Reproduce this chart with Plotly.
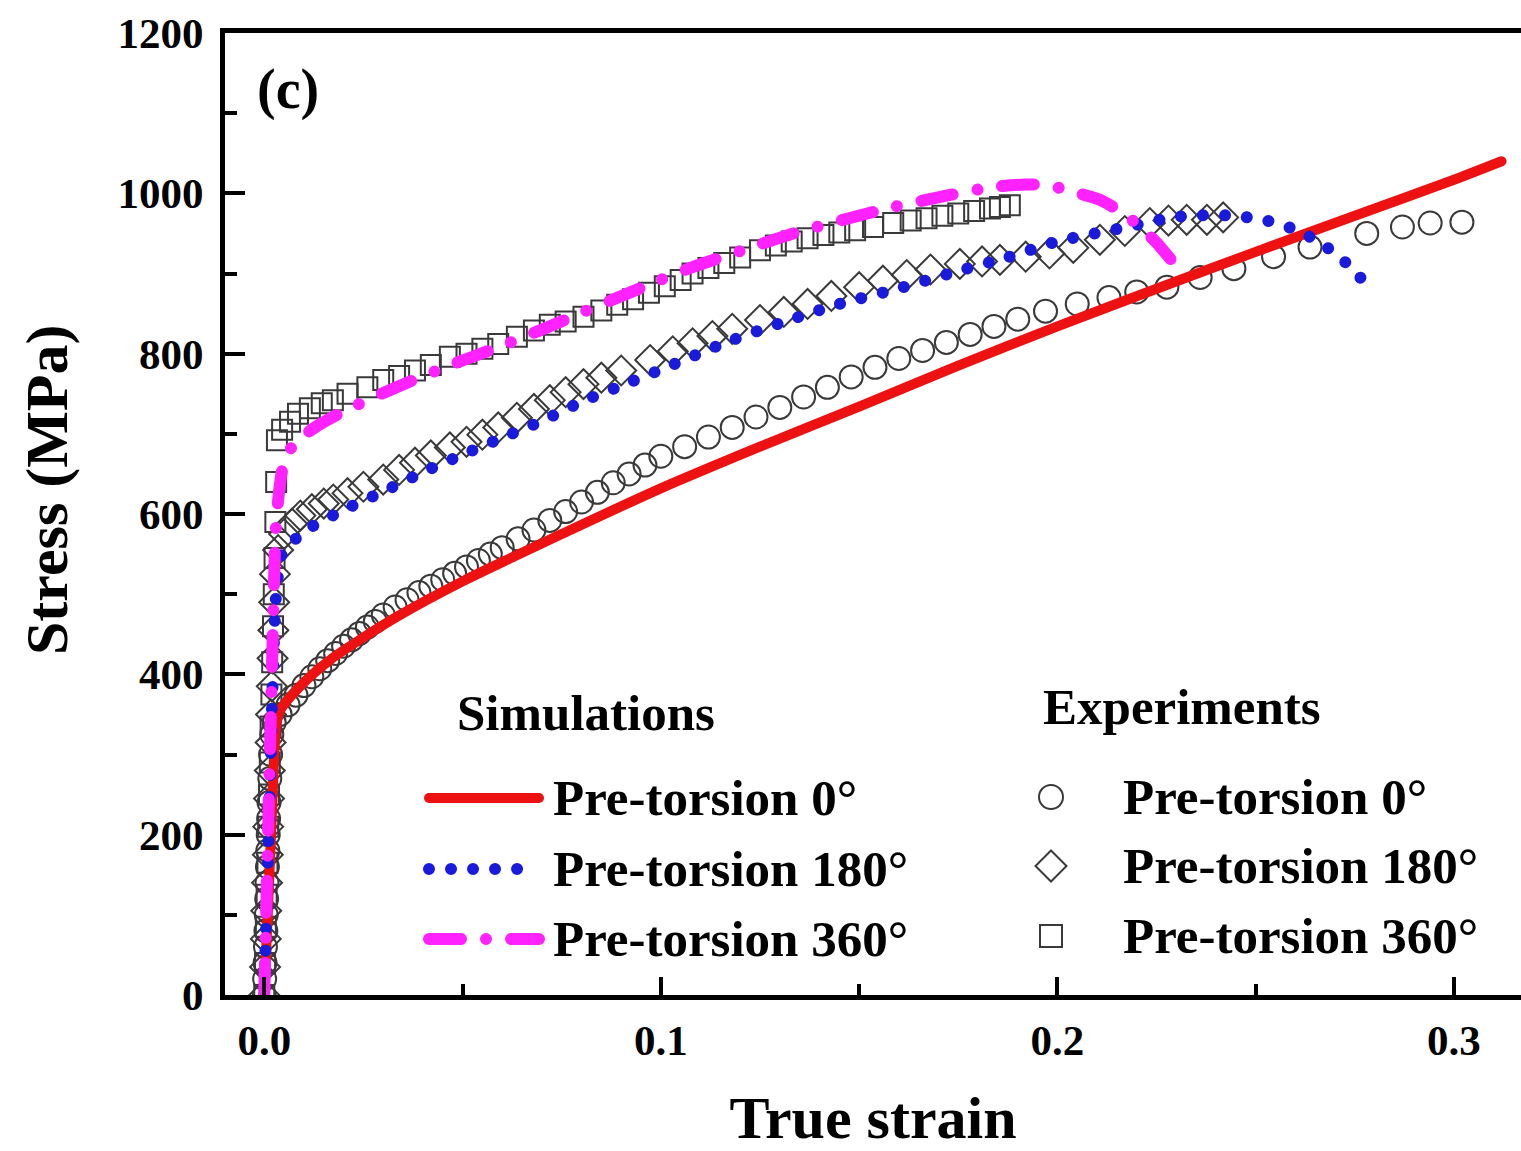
import plotly.graph_objects as go

# ---------------- data ----------------
# Simulations
sim0_strain = [0, 0.001, 0.002, 0.003, 0.004, 0.01, 0.0166, 0.025, 0.0335, 0.05, 0.063, 0.075,
               0.1, 0.125, 0.15, 0.175, 0.2, 0.225, 0.25, 0.275, 0.3, 0.312]
sim0_stress = [0, 115, 235, 335, 355, 390, 418, 446, 472, 516, 547, 575,
               632, 684, 734, 785, 834, 881, 927, 972, 1017, 1040]

sim180_strain = [0, 0.001, 0.002, 0.003, 0.0045, 0.01, 0.02, 0.03, 0.04, 0.05, 0.06, 0.07, 0.08,
                 0.09, 0.1, 0.117, 0.13, 0.145, 0.159, 0.175, 0.1873, 0.2, 0.2175, 0.229, 0.2385,
                 0.2444, 0.252, 0.2604, 0.267, 0.2733, 0.2793]
sim180_stress = [0, 180, 370, 500, 550, 578, 605, 628, 652, 674, 695, 716, 740,
                 760, 780, 815, 838, 862, 880, 903, 920, 940, 958, 970, 973,
                 972, 967, 954, 936, 911, 879]

sim360_strain = [0, 0.001, 0.002, 0.003, 0.0047, 0.0075, 0.0131, 0.02, 0.03, 0.045, 0.06, 0.07,
                 0.0805, 0.095, 0.108, 0.12, 0.1334, 0.146, 0.1586, 0.172, 0.1838, 0.192, 0.198,
                 0.2023, 0.2107, 0.2166, 0.2209, 0.2251, 0.2285]
sim360_stress = [0, 210, 420, 590, 659, 688, 709, 728, 751, 782, 810, 830,
                 852, 882, 908, 928, 950, 967, 983, 997, 1008, 1011, 1010,
                 1004, 992, 975, 958, 938, 918]

# Experiments
exp0_strain = [0.0, 0.0001, 0.0002, 0.0003, 0.0004, 0.0005, 0.0006, 0.0007, 0.0008, 0.0009, 0.001,
               0.0011, 0.0012, 0.0014, 0.0016, 0.0019,
               0.0025, 0.004, 0.006, 0.008, 0.010, 0.012, 0.014, 0.016, 0.018, 0.020, 0.022, 0.024,
               0.026, 0.028, 0.030, 0.033, 0.036, 0.039, 0.042, 0.045, 0.048, 0.051, 0.054, 0.057,
               0.060, 0.064, 0.068, 0.072, 0.076, 0.080, 0.084, 0.088, 0.092, 0.096, 0.100, 0.106,
               0.112, 0.118, 0.124, 0.130, 0.136, 0.142, 0.148, 0.154, 0.160, 0.166, 0.172, 0.178,
               0.184, 0.190, 0.197, 0.205, 0.213, 0.220, 0.2276, 0.236, 0.2445, 0.2545, 0.2637,
               0.278, 0.287, 0.294, 0.302]
exp0_stress = [0, 20, 40, 60, 80, 100, 120, 140, 160, 180, 200,
               220, 240, 270, 300, 325,
               340, 350, 362, 374, 386, 397, 407, 417, 426, 435, 443, 451,
               459, 466, 474, 484, 493, 502, 510, 518, 526, 534, 542, 550,
               558, 569, 580, 592, 603, 615, 627, 639, 650, 661, 672, 684,
               696, 708, 721, 733, 746, 758, 771, 783, 794, 804, 814, 824,
               834, 843, 853, 862, 870, 877, 883, 895, 906, 921, 933,
               950, 958, 963, 964]

exp180_strain = [0.0, 0.0002, 0.0004, 0.0005, 0.0007, 0.0009, 0.001, 0.0012, 0.0014, 0.0016, 0.0017,
                 0.0019, 0.0021, 0.0023, 0.0025, 0.0027,
                 0.0035, 0.005, 0.007, 0.0091, 0.012, 0.015, 0.0174, 0.021, 0.025, 0.030, 0.034,
                 0.038, 0.042, 0.0468, 0.051, 0.055, 0.059, 0.0637, 0.068, 0.072, 0.076, 0.0805,
                 0.085, 0.090, 0.0973, 0.103, 0.108, 0.113, 0.118, 0.125, 0.131, 0.137, 0.143,
                 0.150, 0.156, 0.162, 0.168, 0.1754, 0.181, 0.1855, 0.192, 0.198, 0.204, 0.2107,
                 0.217, 0.2233, 0.228, 0.2326, 0.2377, 0.2418]
exp180_stress = [0, 35, 70, 105, 140, 175, 210, 245, 280, 315, 350,
                 385, 420, 455, 490, 525,
                 555, 575, 588, 598, 606, 613, 618, 626, 634, 643, 655,
                 664, 673, 683, 690, 699, 708, 720, 731, 742, 752, 762,
                 770, 779, 792, 803, 813, 822, 831, 842, 852, 862, 872,
                 883, 891, 898, 905, 912, 915, 917, 921, 925, 932, 942,
                 953, 963, 966, 967, 967, 970]

exp360_strain = [0.0, 0.0002, 0.0004, 0.0006, 0.0008, 0.001, 0.0012, 0.0014, 0.0016, 0.0018, 0.002,
                 0.0022, 0.0024, 0.0026, 0.0028, 0.003,
                 0.0032, 0.0045, 0.0065, 0.0085, 0.0115, 0.0145, 0.0173, 0.021, 0.026, 0.030, 0.034,
                 0.038, 0.042, 0.0468, 0.051, 0.055, 0.059, 0.0637, 0.068, 0.072, 0.076, 0.0805,
                 0.085, 0.089, 0.093, 0.097, 0.101, 0.105, 0.108, 0.112, 0.116, 0.120, 0.125, 0.129,
                 0.133, 0.137, 0.141, 0.145, 0.149, 0.1535, 0.1586, 0.163, 0.167, 0.171, 0.175,
                 0.179, 0.183, 0.1855, 0.188]
exp360_stress = [0, 40, 85, 125, 165, 210, 250, 290, 335, 375, 415,
                 460, 500, 545, 590, 640,
                 692, 705, 715, 725, 732, 738, 742, 750, 758, 767, 772,
                 779, 786, 796, 800, 806, 812, 821, 829, 836, 840, 846,
                 854, 861, 868, 876, 884, 892, 900, 907, 913, 920, 929, 935,
                 940, 944, 948, 951, 954, 958, 963, 966, 969, 972, 975,
                 978, 981, 983, 985]

x_tick_vals = [0.0, 0.1, 0.2, 0.3]
x_tick_text = ["0.0", "0.1", "0.2", "0.3"]
y_tick_vals = [0, 200, 400, 600, 800, 1000, 1200]
y_tick_text = ["0", "200", "400", "600", "800", "1000", "1200"]

sim_labels = ["Pre-torsion 0°", "Pre-torsion 180°", "Pre-torsion 360°"]
exp_labels = ["Pre-torsion 0°", "Pre-torsion 180°", "Pre-torsion 360°"]

# ---------------- styling ----------------
FONT = "Liberation Serif, Times New Roman, serif"
RED, BLUE, MAG = "#ee1111", "#1a1add", "#ff22ff"
MK = "#3a3a3a"
# dash patterns are used with round line caps (set below), so "dots" are near-zero dashes
BLUE_DASH = "0.01px,22px"
MAG_DASH = "32px,25px,0.01px,25px"

W, H = 1521, 1151
L, R, T, B = 225, 1521, 33, 995  # plot area in pixels


def px2x(px):
    return (px - L) / (R - L)


def px2y(py):
    return (B - py) / (B - T)


fig = go.Figure()

# experiments (markers)
fig.add_trace(go.Scatter(x=exp0_strain, y=exp0_stress, mode="markers", name=exp_labels[0],
                         marker=dict(symbol="circle-open", size=23, color=MK, line=dict(width=2, color=MK))))
fig.add_trace(go.Scatter(x=exp180_strain, y=exp180_stress, mode="markers", name=exp_labels[1],
                         marker=dict(symbol="diamond-open", size=23, color=MK, line=dict(width=2, color=MK))))
fig.add_trace(go.Scatter(x=exp360_strain, y=exp360_stress, mode="markers", name=exp_labels[2],
                         marker=dict(symbol="square-open", size=20, color=MK, line=dict(width=2, color=MK))))

# simulations (lines)
fig.add_trace(go.Scatter(x=sim0_strain, y=sim0_stress, mode="lines", name=sim_labels[0],
                         line=dict(color=RED, width=10, shape="spline", smoothing=0.8)))
fig.add_trace(go.Scatter(x=sim180_strain, y=sim180_stress, mode="lines", name=sim_labels[1],
                         line=dict(color=BLUE, width=12, dash=BLUE_DASH, shape="spline", smoothing=0.6)))
fig.add_trace(go.Scatter(x=sim360_strain, y=sim360_stress, mode="lines", name=sim_labels[2],
                         line=dict(color=MAG, width=12, dash=MAG_DASH, shape="spline", smoothing=0.6)))

tickfont = dict(family=FONT, size=43, color="black", weight="bold")
titlefont = dict(family=FONT, size=60, color="black", weight="bold")

fig.update_xaxes(range=[-0.0099, 0.3169], showline=True, linewidth=5, linecolor="black", mirror=True,
                 ticks="inside", ticklen=18, tickwidth=4, tickcolor="black",
                 tickvals=x_tick_vals, ticktext=x_tick_text,
                 minor=dict(ticks="inside", ticklen=11, tickwidth=4, tickcolor="black",
                            tickvals=[0.05, 0.15, 0.25]),
                 showgrid=False, zeroline=False, tickfont=tickfont, ticklabelstandoff=3,
                 title=dict(text="True strain", font=titlefont, standoff=36))
fig.update_yaxes(range=[0, 1200], showline=True, linewidth=5, linecolor="black", mirror=False,
                 ticks="inside", ticklen=20, tickwidth=4, tickcolor="black",
                 tickvals=y_tick_vals, ticktext=y_tick_text,
                 minor=dict(ticks="inside", ticklen=12, tickwidth=4, tickcolor="black",
                            tickvals=[100, 300, 500, 700, 900, 1100]),
                 showgrid=False, zeroline=False, tickfont=tickfont, ticklabelstandoff=8)

# ---------------- texts and manual legend ----------------
legfont = dict(family=FONT, size=51, color="black", weight="bold")
ann = []
shapes = []
ann.append(dict(text="Stress (MPa)", textangle=-90, x=px2x(47), y=px2y(490), xref="paper", yref="paper",
                xanchor="center", yanchor="middle", showarrow=False, font=titlefont))
ann.append(dict(text="(c)", x=px2x(255), y=px2y(89), xref="paper", yref="paper", xanchor="left",
                yanchor="middle", showarrow=False, font=dict(family=FONT, size=56, color="black", weight="bold")))
ann.append(dict(text="Simulations", x=px2x(455), y=px2y(713), xref="paper", yref="paper", xanchor="left",
                yanchor="middle", showarrow=False, font=legfont))
ann.append(dict(text="Experiments", x=px2x(1041), y=px2y(707), xref="paper", yref="paper", xanchor="left",
                yanchor="middle", showarrow=False, font=legfont))

sim_rows = [798, 869, 939]
sim_styles = [dict(color=RED, width=10), dict(color=BLUE, width=12, dash=BLUE_DASH),
              dict(color=MAG, width=12, dash=MAG_DASH)]
for yy, lab, st in zip(sim_rows, sim_labels, sim_styles):
    shapes.append(dict(type="line", xref="paper", yref="paper", x0=px2x(429), x1=px2x(539),
                       y0=px2y(yy), y1=px2y(yy), line=st))
    ann.append(dict(text=lab, x=px2x(551), y=px2y(yy), xref="paper", yref="paper", xanchor="left",
                    yanchor="middle", showarrow=False, font=legfont))

exp_rows = [797, 866, 936]
cx = 1051
shapes.append(dict(type="circle", xref="paper", yref="paper", x0=px2x(cx - 12), x1=px2x(cx + 12),
                   y0=px2y(exp_rows[0] + 12), y1=px2y(exp_rows[0] - 12), line=dict(color=MK, width=2)))
d = 15.5
yy = exp_rows[1]
shapes.append(dict(type="path", xref="paper", yref="paper",
                   path=f"M {px2x(cx)},{px2y(yy - d)} L {px2x(cx + d)},{px2y(yy)} L {px2x(cx)},{px2y(yy + d)} "
                        f"L {px2x(cx - d)},{px2y(yy)} Z",
                   line=dict(color=MK, width=2)))
yy = exp_rows[2]
shapes.append(dict(type="rect", xref="paper", yref="paper", x0=px2x(cx - 11), x1=px2x(cx + 11),
                   y0=px2y(yy + 11), y1=px2y(yy - 11), line=dict(color=MK, width=2)))
for yy, lab in zip(exp_rows, exp_labels):
    ann.append(dict(text=lab, x=px2x(1121), y=px2y(yy), xref="paper", yref="paper", xanchor="left",
                    yanchor="middle", showarrow=False, font=legfont))

fig.update_layout(width=W, height=H, margin=dict(l=L, r=W - R, t=T, b=H - B, pad=0),
                  paper_bgcolor="white", plot_bgcolor="white", showlegend=False,
                  annotations=ann, shapes=shapes)

post = """
document.body.style.margin = '0px';
var st = document.createElement('style');
st.textContent = '.scatterlayer .js-line, .shapelayer path { stroke-linecap: round; }';
document.head.appendChild(st);
"""
fig.write_html("out.html", post_script=post, config={"displayModeBar": False})
